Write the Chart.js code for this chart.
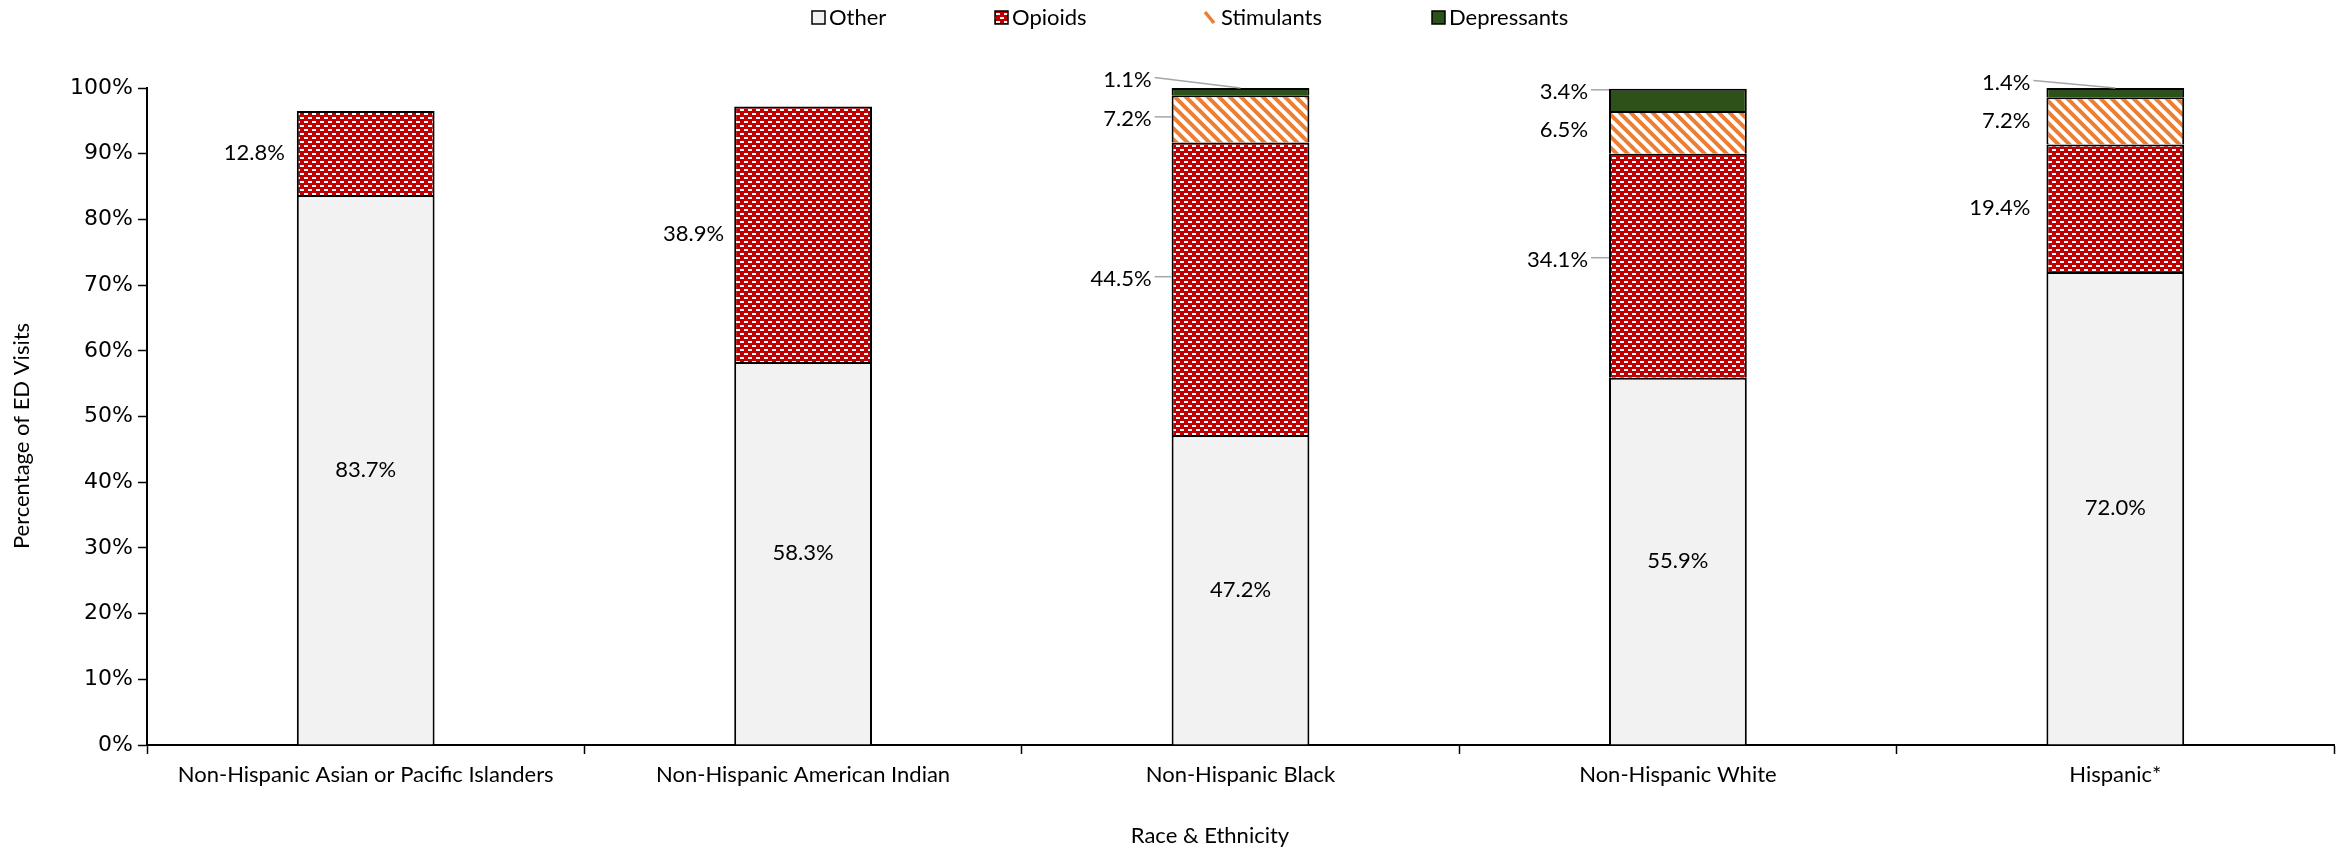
<!DOCTYPE html>
<html>
<head>
<meta charset="utf-8">
<script src="https://cdn.jsdelivr.net/npm/chart.js@4.4.1/dist/chart.umd.min.js"></script>
<style>
  html, body { margin: 0; padding: 0; background: #fff; }
  #wrap { width: 2346px; height: 849px; }
</style>
</head>
<body>
<div id="wrap"><canvas id="edChart" width="2346" height="849"></canvas></div>
<script>
// data (% of ED visits)
const categories = ['Non-Hispanic Asian or Pacific Islanders', 'Non-Hispanic American Indian', 'Non-Hispanic Black', 'Non-Hispanic White', 'Hispanic*'];
const otherPct = [83.7, 58.3, 47.2, 55.9, 72.0];
const opioidPct = [12.8, 38.9, 44.5, 34.1, 19.4];
const stimulantPct = [0, 0, 7.2, 6.5, 7.2];
const depressantPct = [0, 0, 1.1, 3.4, 1.4];
const yTicks = [0, 10, 20, 30, 40, 50, 60, 70, 80, 90, 100];

const canvas = document.getElementById('edChart');
const ctx = canvas.getContext('2d');

// fill patterns
function makeTile(size, draw) {
  const c = document.createElement('canvas');
  c.width = size; c.height = size;
  draw(c.getContext('2d'), size);
  return ctx.createPattern(c, 'repeat');
}
const opioidFill = makeTile(8, (g, s) => {
  g.fillStyle = '#C00000';
  g.fillRect(0, 0, s, s);
  g.fillStyle = '#ffffff';
  g.fillRect(0, 1, 4, 2);
  g.fillRect(4, 5, 4, 2);
});
const stimFill = makeTile(11, (g, s) => {
  g.fillStyle = '#ffffff';
  g.fillRect(0, 0, s, s);
  g.strokeStyle = '#ED7D31';
  g.lineWidth = 4;
  for (const o of [-s, 0, s]) {
    g.beginPath();
    g.moveTo(o - 2, -2);
    g.lineTo(o + s + 2, s + 2);
    g.stroke();
  }
});
const otherFill = '#F2F2F2';
const depFill = '#2C5219';

// where outside labels sit (gap from bar edge, vertical nudge, leader line)
const labelGap = [12, 10, 20, 21, 16];
const labelTweaks = {
  '1-2': { dy: -10, leader: 'side' },
  '1-3': { dy: -6, leader: 'side' },
  '2-2': { dy: 0, leader: 'side' },
  '2-3': { dy: -2 },
  '3-2': { dy: -12, leader: 'top' },
  '3-3': { dy: -8, leader: 'side' },
  '3-4': { dy: -10, leader: 'top' }
};

const segLabels = {
  id: 'segLabels',
  afterDatasetsDraw(chart) {
    const c = chart.ctx;
    c.save();
    c.font = '22px Lato';
    c.fillStyle = '#000';
    c.textBaseline = 'middle';
    chart.data.datasets.forEach((ds, di) => {
      const meta = chart.getDatasetMeta(di);
      meta.data.forEach((bar, i) => {
        const v = ds.data[i];
        if (!v) return;
        const txt = v.toFixed(1) + '%';
        const top = Math.min(bar.y, bar.base);
        const bottom = Math.max(bar.y, bar.base);
        const midY = (top + bottom) / 2;
        if (di === 0) {
          c.textAlign = 'center';
          c.fillText(txt, bar.x, midY);
          return;
        }
        const tw = labelTweaks[di + '-' + i] || { dy: 0 };
        const left = bar.x - bar.width / 2;
        const tx = left - labelGap[i];
        const ty = midY + tw.dy;
        c.textAlign = 'right';
        c.fillText(txt, tx, ty);
        if (tw.leader) {
          c.strokeStyle = '#A6A6A6';
          c.lineWidth = 1.5;
          c.beginPath();
          c.moveTo(tx + 3, ty - 2);
          if (tw.leader === 'top') c.lineTo(bar.x, top);
          else c.lineTo(left, ty - 2);
          c.stroke();
        }
      });
    });
    c.restore();
  }
};

// legend and axis titles drawn by hand so their spots match
const legendItems = [
  { text: 'Other', x: 812, fill: otherFill, border: true },
  { text: 'Opioids', x: 995, fill: opioidFill, border: true },
  { text: 'Stimulants', x: 1204, fill: null, border: false },
  { text: 'Depressants', x: 1432, fill: depFill, border: true }
];
const extras = {
  id: 'extras',
  afterDraw(chart) {
    const c = chart.ctx;
    c.save();
    const cy = 18;
    c.font = '22px Lato';
    c.textBaseline = 'middle';
    c.textAlign = 'left';
    legendItems.forEach(it => {
      if (it.fill) {
        c.fillStyle = it.fill;
        c.fillRect(it.x, cy - 7, 13, 13);
      } else {
        c.strokeStyle = '#ED7D31';
        c.lineWidth = 3.5;
        c.beginPath();
        c.moveTo(it.x + 1, cy - 6);
        c.lineTo(it.x + 10, cy + 5);
        c.stroke();
      }
      if (it.border) {
        c.strokeStyle = '#000';
        c.lineWidth = 1.5;
        c.strokeRect(it.x, cy - 7, 13, 13);
      }
      c.fillStyle = '#000';
      c.fillText(it.text, it.x + 17, cy);
    });

    c.textAlign = 'center';
    c.fillText('Race & Ethnicity', 1210, 836);
    c.translate(22, 436);
    c.rotate(-Math.PI / 2);
    c.fillText('Percentage of ED Visits', 0, 0);
    c.restore();
  }
};

new Chart(ctx, {
  type: 'bar',
  data: {
    labels: categories,
    datasets: [
      { label: 'Other', data: otherPct, backgroundColor: otherFill },
      { label: 'Opioids', data: opioidPct.map(v => v || null), backgroundColor: opioidFill },
      { label: 'Stimulants', data: stimulantPct.map(v => v || null), backgroundColor: stimFill },
      { label: 'Depressants', data: depressantPct.map(v => v || null), backgroundColor: depFill }
    ]
  },
  options: {
    responsive: false,
    animation: false,
    datasets: {
      bar: {
        borderColor: '#000',
        borderWidth: 2,
        categoryPercentage: 1,
        barPercentage: 0.315
      }
    },
    layout: { padding: { top: 88, right: 12, left: 0, bottom: 0 } },
    plugins: {
      legend: { display: false },
      tooltip: { enabled: false }
    },
    scales: {
      x: {
        stacked: true,
        grid: { display: true, drawOnChartArea: false, drawTicks: true, tickLength: 9, tickColor: '#000', tickWidth: 1.5, offset: true },
        border: { display: true, color: '#000', width: 2 },
        ticks: { color: '#000', font: { family: 'Lato', size: 22 }, padding: 8, maxRotation: 0, autoSkip: false },
        afterFit: s => { s.height = 104; }
      },
      y: {
        stacked: true,
        min: 0,
        max: 100,
        afterBuildTicks: axis => { axis.ticks = yTicks.map(v => ({ value: v })); },
        grid: { display: true, drawOnChartArea: false, drawTicks: true, tickLength: 9, tickColor: '#000', tickWidth: 1.5 },
        border: { display: true, color: '#000', width: 2 },
        ticks: { color: '#000', font: { family: 'DejaVu Sans', size: 22 }, padding: 5, callback: v => v + '%' },
        afterFit: s => { s.width = 147; }
      }
    }
  },
  plugins: [segLabels, extras]
});
</script>
</body>
</html>
